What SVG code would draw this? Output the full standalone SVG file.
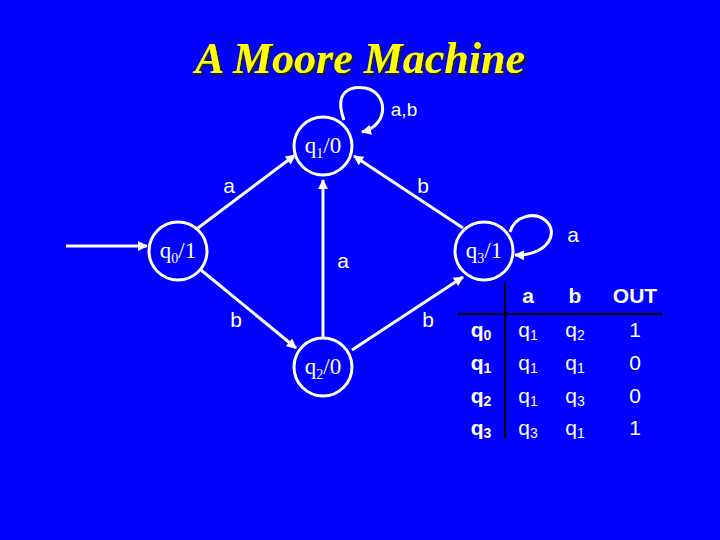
<svg xmlns="http://www.w3.org/2000/svg" width="720" height="540" viewBox="0 0 720 540">
<defs>
<marker id="arr" viewBox="0 0 10 10" refX="9" refY="5" markerWidth="12" markerHeight="10" orient="auto" markerUnits="userSpaceOnUse">
<path d="M0,0 L10,5 L0,10 z" fill="#fff"/>
</marker>
<filter id="shadow" x="-5%" y="-20%" width="110%" height="140%">
<feDropShadow dx="2" dy="2" stdDeviation="0.6" flood-color="#222" flood-opacity="1"/>
</filter>
</defs>
<style>
.st{fill:none;stroke:#fff;stroke-width:3}
.edge{fill:none;stroke:#fff;stroke-width:3;marker-end:url(#arr)}
.nl{font-family:"Liberation Serif",serif;font-size:23px;fill:#fff;text-anchor:middle}
.el{font-family:"Liberation Sans",sans-serif;font-size:21px;fill:#fff;text-anchor:middle}
.tb{font-family:"Liberation Sans",sans-serif;font-size:21px;fill:#fff;text-anchor:middle}
.bold{font-weight:bold}
.ttl{font-family:"Liberation Serif",serif;font-size:44px;font-weight:bold;font-style:italic;text-anchor:middle;fill:#FFFF00;filter:url(#shadow)}
.tl{stroke:#000;stroke-width:2}
</style>
<rect width="720" height="540" fill="#0000FF"/>
<g id="title">
<text class="ttl" x="360" y="73">A Moore Machine</text>
</g>
<g id="connectors">
<path class="edge" d="M66,246 L147,246"/>
<path class="edge" d="M198,228 L295,155"/>
<path class="edge" d="M323,338 L323,180"/>
<path class="edge" d="M463,228 L354,156"/>
<path class="edge" d="M201,270 L296,348"/>
<path class="edge" d="M352,350 L463,277"/>
<path class="edge" d="M344,120 C333,90 352,86 365,88 C388,92 390,125 362,132"/>
<path class="edge" d="M510,232 C515,215 535,212 545,220 C560,232 548,256 515,255"/>
<text class="el" x="229" y="193">a</text>
<text class="el" x="343" y="268">a</text>
<text class="el" x="423" y="193">b</text>
<text class="el" x="236" y="327">b</text>
<text class="el" x="428" y="327">b</text>
<text class="el" x="404" y="116" style="font-size:19px">a,b</text>
<text class="el" x="573" y="242">a</text>
</g>
<g id="q0">
<circle class="st" cx="178" cy="251" r="29"/>
<text class="nl" x="178" y="258">q<tspan dy="5" font-size="14">0</tspan><tspan dy="-5">/1</tspan></text>
</g>
<g id="q1">
<circle class="st" cx="323" cy="146" r="29"/>
<text class="nl" x="323" y="153">q<tspan dy="5" font-size="14">1</tspan><tspan dy="-5">/0</tspan></text>
</g>
<g id="q2">
<circle class="st" cx="323" cy="367" r="29"/>
<text class="nl" x="323" y="374">q<tspan dy="5" font-size="14">2</tspan><tspan dy="-5">/0</tspan></text>
</g>
<g id="q3">
<circle class="st" cx="484" cy="251" r="29"/>
<text class="nl" x="484" y="258">q<tspan dy="5" font-size="14">3</tspan><tspan dy="-5">/1</tspan></text>
</g>
<g id="table">
<line class="tl" x1="505" y1="283" x2="505" y2="438"/>
<line class="tl" x1="457" y1="314" x2="663" y2="314"/>
<text class="tb bold" x="528" y="303">a</text>
<text class="tb bold" x="575" y="303">b</text>
<text class="tb bold" x="635" y="303">OUT</text>
<text class="tb bold" x="481" y="337">q<tspan dy="3" font-size="14">0</tspan></text>
<text class="tb bold" x="481" y="370">q<tspan dy="3" font-size="14">1</tspan></text>
<text class="tb bold" x="481" y="403">q<tspan dy="3" font-size="14">2</tspan></text>
<text class="tb bold" x="481" y="435">q<tspan dy="3" font-size="14">3</tspan></text>
<text class="tb" x="528" y="337">q<tspan dy="3" font-size="14">1</tspan></text>
<text class="tb" x="528" y="370">q<tspan dy="3" font-size="14">1</tspan></text>
<text class="tb" x="528" y="403">q<tspan dy="3" font-size="14">1</tspan></text>
<text class="tb" x="528" y="435">q<tspan dy="3" font-size="14">3</tspan></text>
<text class="tb" x="575" y="337">q<tspan dy="3" font-size="14">2</tspan></text>
<text class="tb" x="575" y="370">q<tspan dy="3" font-size="14">1</tspan></text>
<text class="tb" x="575" y="403">q<tspan dy="3" font-size="14">3</tspan></text>
<text class="tb" x="575" y="435">q<tspan dy="3" font-size="14">1</tspan></text>
<text class="tb" x="635" y="337">1</text>
<text class="tb" x="635" y="370">0</text>
<text class="tb" x="635" y="403">0</text>
<text class="tb" x="635" y="435">1</text>
</g>
</svg>
